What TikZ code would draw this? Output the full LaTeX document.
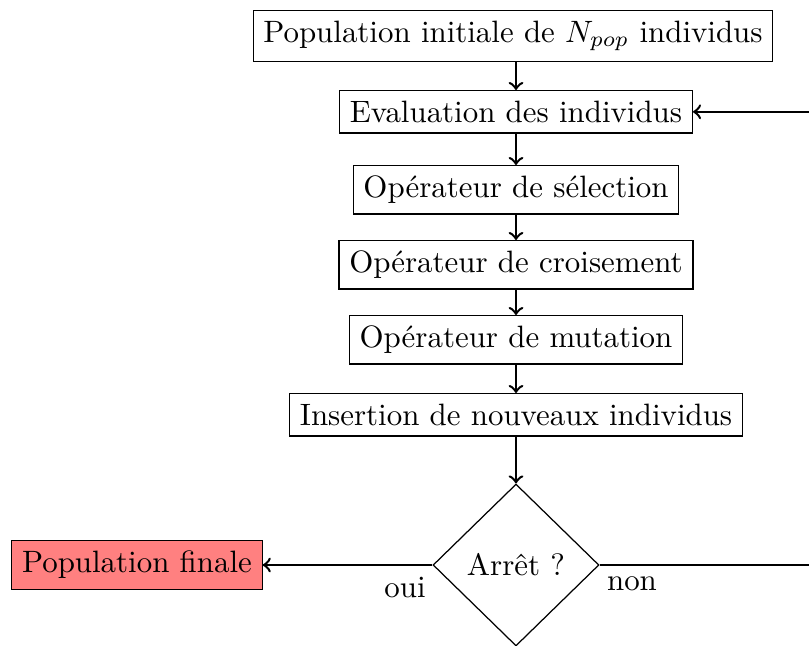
\documentclass[tikz,border=0pt]{standalone}
\usetikzlibrary{shapes.geometric}
\begin{document}
\begin{tikzpicture}[x=0.3236pt,y=-0.3236pt,
  box/.style={draw,rectangle,line width=0.4pt,inner sep=0.3333em},
  finalbox/.style={box,fill=red!50},
  decision/.style={draw,diamond,shape aspect=1,inner sep=0pt,minimum width=53.7pt,minimum height=52.4pt,line width=0.4pt},
  conn/.style={->,thick},
  lbl/.style={inner sep=0pt}]
\useasboundingbox (0,0) rectangle (809,646);
\node[box,anchor=north] (b1) at (513,10) {Population initiale de $N_{pop}$ individus};
\node[box,anchor=north] (b2) at (516,90) {Evaluation des individus};
\node[box,anchor=north] (b3) at (516,165) {Opérateur de sélection};
\node[box,anchor=north] (b4) at (516,240) {Opérateur de croisement};
\node[box,anchor=north] (b5) at (516,315) {Opérateur de mutation};
\node[box,anchor=north] (b6) at (516,393) {Insertion de nouveaux individus};
\node[decision] (d) at (516,565) {Arrêt ?};
\node[finalbox] (f) at (137,565) {Population finale};
\node[lbl] (oui) at (405,588) {oui};
\node[lbl] (non) at (632,584) {non};
\coordinate (cr) at (816,565);
\draw[conn] (b1.south -| b2.north) -- (b2.north);
\draw[conn] (b2) -- (b3);
\draw[conn] (b3) -- (b4);
\draw[conn] (b4) -- (b5);
\draw[conn] (b5) -- (b6);
\draw[conn] (b6) -- (d);
\draw[conn] (d) -- (f);
\draw[conn] (d.east) -- (cr) -- (cr |- b2.east) -- (b2.east);
\end{tikzpicture}
\end{document}
